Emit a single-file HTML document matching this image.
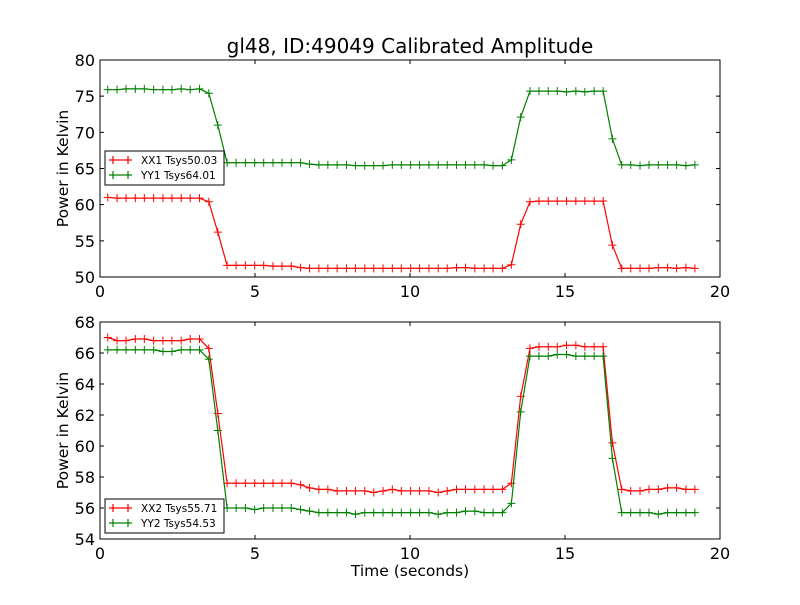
<!DOCTYPE html>
<html><head><meta charset="utf-8"><style>
body{margin:0;background:#fff;}
svg text{font-family:"DejaVu Sans","Liberation Sans",sans-serif;}
</style></head><body>
<svg id="chart" width="800" height="600" xmlns="http://www.w3.org/2000/svg">
<rect width="800" height="600" fill="#fff"/>
<text x="410" y="53" font-size="20" text-anchor="middle">gl48, ID:49049 Calibrated Amplitude</text>
<text x="410" y="576" font-size="15.5" text-anchor="middle">Time (seconds)</text>
</svg>
<script>
const times = [0.25,0.55,0.84,1.14,1.43,1.73,2.03,2.32,2.62,2.91,3.21,3.51,3.80,4.10,4.39,4.69,4.99,5.28,5.58,5.87,6.17,6.47,6.76,7.06,7.35,7.65,7.95,8.24,8.54,8.83,9.13,9.43,9.72,10.02,10.31,10.61,10.91,11.20,11.50,11.79,12.09,12.39,12.68,12.98,13.27,13.57,13.87,14.16,14.46,14.75,15.05,15.35,15.64,15.94,16.23,16.53,16.83,17.12,17.42,17.71,18.01,18.31,18.60,18.90,19.19];
const xx1 = [61.0,60.9,60.9,60.9,60.9,60.9,60.9,60.9,60.9,60.9,60.9,60.4,56.2,51.6,51.6,51.6,51.6,51.6,51.5,51.5,51.5,51.3,51.2,51.2,51.2,51.2,51.2,51.2,51.2,51.2,51.2,51.2,51.2,51.2,51.2,51.2,51.2,51.2,51.3,51.3,51.2,51.2,51.2,51.2,51.7,57.3,60.4,60.5,60.5,60.5,60.5,60.5,60.5,60.5,60.5,54.4,51.2,51.2,51.2,51.2,51.3,51.3,51.2,51.3,51.2];
const yy1 = [75.9,75.9,76.0,76.0,76.0,75.9,75.9,75.9,76.0,75.9,76.0,75.4,71.0,65.8,65.8,65.8,65.8,65.8,65.8,65.8,65.8,65.8,65.6,65.5,65.5,65.5,65.5,65.4,65.4,65.4,65.4,65.5,65.5,65.5,65.5,65.5,65.5,65.5,65.5,65.5,65.5,65.5,65.4,65.4,66.2,72.1,75.7,75.7,75.7,75.7,75.6,75.7,75.6,75.7,75.7,69.1,65.5,65.5,65.4,65.5,65.5,65.5,65.5,65.4,65.5];
const xx2 = [67.0,66.8,66.8,66.9,66.9,66.8,66.8,66.8,66.8,66.9,66.9,66.3,62.1,57.6,57.6,57.6,57.6,57.6,57.6,57.6,57.6,57.5,57.3,57.2,57.2,57.1,57.1,57.1,57.1,57.0,57.1,57.2,57.1,57.1,57.1,57.1,57.0,57.1,57.2,57.2,57.2,57.2,57.2,57.2,57.6,63.2,66.3,66.4,66.4,66.4,66.5,66.5,66.4,66.4,66.4,60.2,57.2,57.1,57.1,57.2,57.2,57.3,57.3,57.2,57.2];
const yy2 = [66.2,66.2,66.2,66.2,66.2,66.2,66.1,66.1,66.2,66.2,66.2,65.6,61.0,56.0,56.0,56.0,55.9,56.0,56.0,56.0,56.0,55.9,55.8,55.7,55.7,55.7,55.7,55.6,55.7,55.7,55.7,55.7,55.7,55.7,55.7,55.7,55.6,55.7,55.7,55.8,55.8,55.7,55.7,55.7,56.3,62.2,65.8,65.8,65.8,65.9,65.9,65.8,65.8,65.8,65.8,59.2,55.7,55.7,55.7,55.7,55.6,55.7,55.7,55.7,55.7];
const xTicks = [0,5,10,15,20];
const topYTicks = [50,55,60,65,70,75,80];
const botYTicks = [54,56,58,60,62,64,66,68];

const NS = "http://www.w3.org/2000/svg";
const svg = document.getElementById('chart');
function mk(tag, attrs, parent){ const e=document.createElementNS(NS,tag); for(const k in attrs) e.setAttribute(k,attrs[k]); (parent||svg).appendChild(e); return e; }

function panel(name, top, bottom, ymin, ymax, yTicks, series, legendY){
  const L=100,R=720;
  const xs = v => L + (v-0)/(20-0)*(R-L);
  const ys = v => bottom - (v-ymin)/(ymax-ymin)*(bottom-top);
  const g = mk('g',{});
  
  
  const clipId = name+'-clip';
  const cp = mk('clipPath',{id:clipId},g); mk('rect',{x:L,y:top,width:R-L,height:bottom-top},cp);
  series.forEach(s=>{
    const pts = times.map((t,i)=>xs(t).toFixed(1)+','+ys(s.vals[i]).toFixed(1)).join(' ');
    const sg = mk('g',{'clip-path':'url(#'+clipId+')'},g);
    
    
    mk('polyline',{points:pts,fill:'none',stroke:s.color,'stroke-width':1.2},sg);
    let d='';
    times.forEach((t,i)=>{ const x=xs(t), y=ys(s.vals[i]); d+=`M${x-4},${y}h8M${x},${y-4}v8`; });
    mk('path',{d:d,stroke:s.color,'stroke-width':1,fill:'none'},sg);
  });
  const frame = mk('rect',{x:L,y:top,width:R-L,height:bottom-top,fill:'none',stroke:'#000','stroke-width':1},g);
  
  
  xTicks.forEach(v=>{
    const x=xs(v);
    mk('path',{d:`M${x},${bottom}v-4M${x},${top}v4`,stroke:'#000'},g);
    const t=mk('text',{x:x,y:bottom+20,'font-size':16,'text-anchor':'middle'},g); t.textContent=v;
    
    
  });
  yTicks.forEach(v=>{
    const y=ys(v);
    mk('path',{d:`M${L},${y}h4M${R},${y}h-4`,stroke:'#000'},g);
    const t=mk('text',{x:L-5,y:y+6,'font-size':16,'text-anchor':'end'},g); t.textContent=v;
    
    
  });
  const yt = mk('text',{x:0,y:0,'font-size':15.5,'text-anchor':'middle',transform:`translate(68,${(top+bottom)/2}) rotate(-90)`},g);
  yt.textContent='Power in Kelvin';
  
  
  const lg = mk('g',{},g);
  
  
  mk('rect',{x:105,y:legendY,width:119,height:34,fill:'#fff',stroke:'#000','stroke-width':1},lg);
  series.forEach((s,i)=>{
    const y=legendY+9+i*15;
    const e = mk('g',{},lg);
    
    
    mk('path',{d:`M109,${y}h23M113,${y-4}v8M128,${y-4}v8`,stroke:s.color,'stroke-width':1.2},e);
    const t=mk('text',{x:141,y:y+4,'font-size':10.5},e); t.textContent=s.label;
  });
}
panel('top-panel',60,277,50,80,topYTicks,[{id:'xx1',vals:xx1,color:'#ff0000',label:'XX1 Tsys50.03'},{id:'yy1',vals:yy1,color:'#008000',label:'YY1 Tsys64.01'}],151);
panel('bottom-panel',322,539,54,68,botYTicks,[{id:'xx2',vals:xx2,color:'#ff0000',label:'XX2 Tsys55.71'},{id:'yy2',vals:yy2,color:'#008000',label:'YY2 Tsys54.53'}],499);
</script>
</body></html>
